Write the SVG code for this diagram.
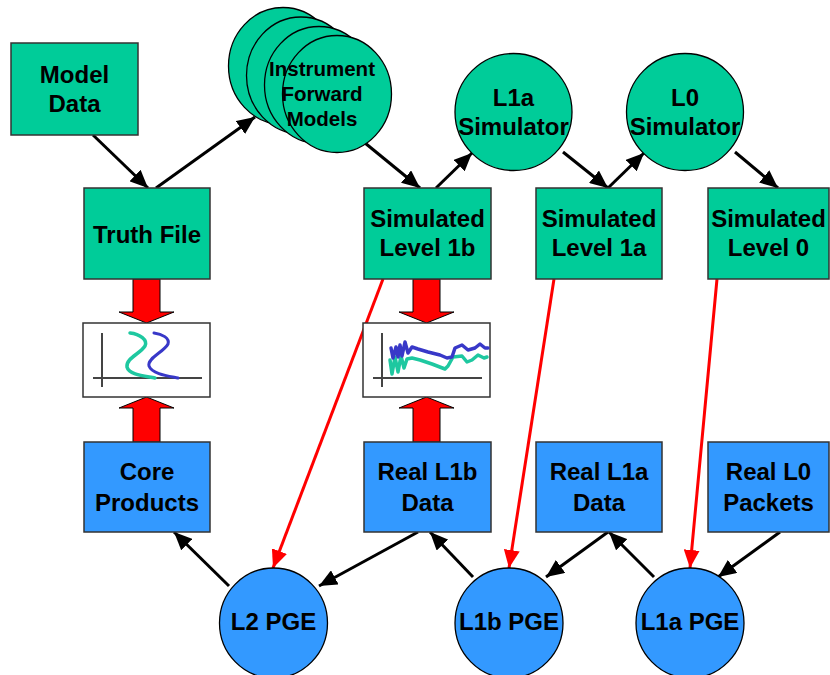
<svg xmlns="http://www.w3.org/2000/svg" width="830" height="675" viewBox="0 0 830 675">
<defs>
<marker id="ah" markerUnits="userSpaceOnUse" markerWidth="19" markerHeight="16" refX="18" refY="8" orient="auto"><path d="M0,0 L18,8 L0,16 z" fill="#000"/></marker>
<marker id="rh" markerUnits="userSpaceOnUse" markerWidth="19" markerHeight="16" refX="18" refY="8" orient="auto"><path d="M0,0 L18,8 L0,16 z" fill="#ff0000"/></marker>
<style>
.g{fill:#00cc99;stroke:#333;stroke-width:1.5}
.b{fill:#3399ff;stroke:#333;stroke-width:1.5}
.c{stroke:#000;stroke-width:1.3}
.t{font-family:"Liberation Sans",Arial,sans-serif;font-weight:bold;font-size:24px;fill:#000;text-anchor:middle}
.ts{font-size:20.5px}
.k{stroke:#000;stroke-width:3;fill:none;marker-end:url(#ah)}
.r{stroke:#ff0000;stroke-width:3;fill:none;marker-end:url(#rh)}
.ba{fill:#ff0000;stroke:#000;stroke-width:1}
.ch{fill:#fff;stroke:#333;stroke-width:1.5}
.ax{stroke:#444;stroke-width:2;fill:none}
.cv{fill:none;stroke-width:3.5;stroke-linejoin:round;stroke-linecap:round}
</style>
</defs>
<rect width="830" height="675" fill="#fff"/>

<g id="connectors">
<line class="k" x1="93" y1="135" x2="148" y2="188"/>
<line class="k" x1="156" y1="188" x2="255" y2="117"/>
<line class="k" x1="365" y1="143" x2="420" y2="188"/>
<line class="k" x1="436" y1="188" x2="472" y2="153"/>
<line class="k" x1="563" y1="152" x2="608" y2="188"/>
<line class="k" x1="608" y1="188" x2="644" y2="153"/>
<line class="k" x1="735" y1="152" x2="778" y2="188"/>
<line class="k" x1="229" y1="586" x2="174" y2="532"/>
<line class="k" x1="418" y1="532" x2="319" y2="586"/>
<line class="k" x1="473" y1="577" x2="430" y2="532"/>
<line class="k" x1="608" y1="532" x2="546" y2="577"/>
<line class="k" x1="654" y1="577" x2="609" y2="532"/>
<line class="k" x1="780" y1="532" x2="718" y2="577"/>
<line class="r" x1="383" y1="279" x2="273" y2="568"/>
<line class="r" x1="554" y1="279" x2="509" y2="568"/>
<line class="r" x1="717" y1="279" x2="690" y2="568"/>
<path class="ba" d="M133,279 L160,279 L160,312 L174,312 L146.5,323 L119,312 L133,312 z"/>
<path class="ba" d="M133,442 L160,442 L160,408 L174,408 L146.5,397 L119,408 L133,408 z"/>
<path class="ba" d="M413,279 L440,279 L440,312 L454,312 L426.5,323 L399,312 L413,312 z"/>
<path class="ba" d="M413,442 L440,442 L440,408 L454,408 L426.5,397 L399,408 L413,408 z"/>
</g>

<g id="model-data"><rect class="g" x="11" y="43" width="127" height="92"/><text class="t" x="74.5" y="83">Model</text><text class="t" x="74.5" y="112">Data</text></g>
<g id="truth-file"><rect class="g" x="84" y="188" width="126" height="91"/><text class="t" x="147" y="243">Truth File</text></g>
<g id="forward-models">
<ellipse class="g c" cx="283" cy="66" rx="54.5" ry="58.5"/>
<ellipse class="g c" cx="301" cy="75.5" rx="54.5" ry="58.5"/>
<ellipse class="g c" cx="319" cy="85" rx="54.5" ry="58.5"/>
<ellipse class="g c" cx="337" cy="94" rx="54.5" ry="58.5"/>
<text class="t ts" x="322" y="76">Instrument</text><text class="t ts" x="322" y="101">Forward</text><text class="t ts" x="322" y="126">Models</text>
</g>
<g id="l1a-simulator"><circle class="g c" cx="513.5" cy="112" r="58.5"/><text class="t" x="513.5" y="106">L1a</text><text class="t" x="513.5" y="135">Simulator</text></g>
<g id="l0-simulator"><circle class="g c" cx="685" cy="112" r="58.5"/><text class="t" x="685" y="106">L0</text><text class="t" x="685" y="135">Simulator</text></g>
<g id="sim-l1b"><rect class="g" x="364" y="188" width="127" height="91"/><text class="t" x="427.5" y="227">Simulated</text><text class="t" x="427.5" y="256">Level 1b</text></g>
<g id="sim-l1a"><rect class="g" x="536" y="188" width="126" height="91"/><text class="t" x="599" y="227">Simulated</text><text class="t" x="599" y="256">Level 1a</text></g>
<g id="sim-l0"><rect class="g" x="708" y="188" width="121" height="91"/><text class="t" x="768.5" y="227">Simulated</text><text class="t" x="768.5" y="256">Level 0</text></g>

<g id="chart-truth">
<rect class="ch" x="83" y="323" width="127" height="74"/>
<line class="ax" x1="102" y1="333" x2="102" y2="387"/>
<line class="ax" x1="93" y1="378" x2="202" y2="378"/>
<path class="cv" stroke="#1ec8a0" d="M130,333 C140,334 148,340 145,346 C140,354 126,358 127,367 C129,375 145,376 155,378"/>
<path class="cv" stroke="#3838c8" style="stroke-width:3" d="M154,333 C162,334 170,338 168,344 C164,352 147,358 149,366 C152,374 168,376 178,378"/>
</g>
<g id="chart-l1b">
<rect class="ch" x="363" y="323" width="127" height="74"/>
<line class="ax" x1="382" y1="333" x2="382" y2="387"/>
<line class="ax" x1="373" y1="378" x2="482" y2="378"/>
<path class="cv" stroke="#1ec8a0" d="M390,360 L392,374 L395,357 L398,372 L401,356 L404,368 L407,359 L412,358 L420,360 L432,364 L445,369 L448,366 L453,357 L462,356 L467,362 L472,360 L478,355 L484,358 L487,357"/>
<path class="cv" stroke="#3838c8" d="M391,348 L393,358 L396,347 L398,357 L400,345 L402,356 L405,342 L408,353 L412,347 L418,349 L428,352 L440,355 L447,358 L452,357 L455,348 L462,345 L468,350 L475,348 L480,344 L485,348 L488,348"/>
</g>

<g id="core-products"><rect class="b" x="84" y="442" width="126" height="90"/><text class="t" x="147" y="480">Core</text><text class="t" x="147" y="511">Products</text></g>
<g id="real-l1b"><rect class="b" x="364" y="442" width="127" height="90"/><text class="t" x="427.5" y="480">Real L1b</text><text class="t" x="427.5" y="511">Data</text></g>
<g id="real-l1a"><rect class="b" x="536" y="442" width="126" height="90"/><text class="t" x="599" y="480">Real L1a</text><text class="t" x="599" y="511">Data</text></g>
<g id="real-l0"><rect class="b" x="708" y="442" width="121" height="90"/><text class="t" x="768.5" y="480">Real L0</text><text class="t" x="768.5" y="511">Packets</text></g>
<g id="l2-pge"><ellipse class="b c" cx="273.5" cy="623" rx="54" ry="55"/><text class="t" x="273.5" y="630">L2 PGE</text></g>
<g id="l1b-pge"><ellipse class="b c" cx="509" cy="623" rx="54" ry="55"/><text class="t" x="509" y="630">L1b PGE</text></g>
<g id="l1a-pge"><ellipse class="b c" cx="690" cy="623" rx="54" ry="55"/><text class="t" x="690" y="630">L1a PGE</text></g>
</svg>
